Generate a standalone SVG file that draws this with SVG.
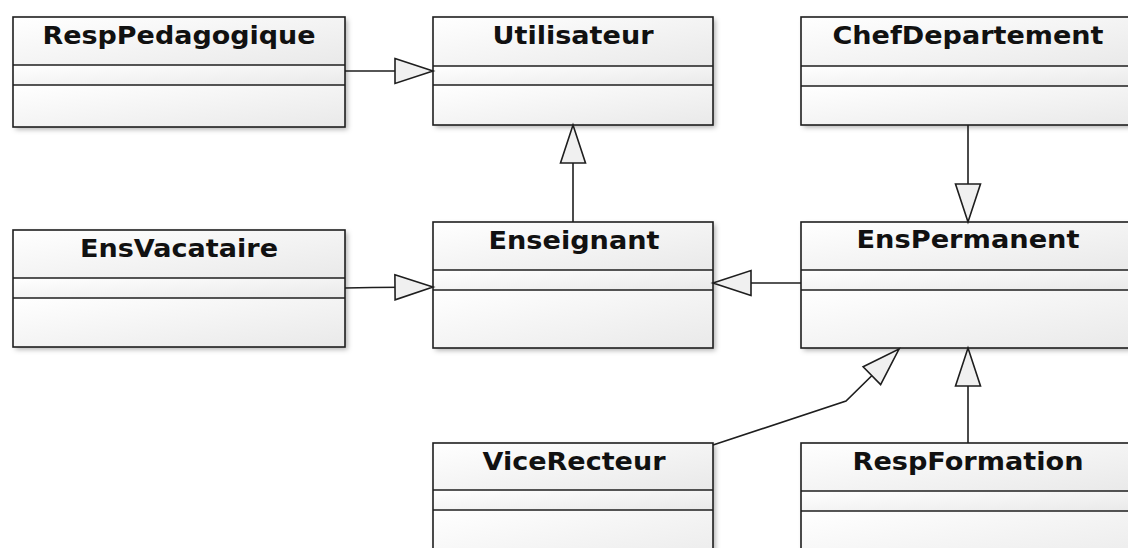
<svg xmlns="http://www.w3.org/2000/svg" width="1128" height="548" viewBox="0 0 1128 548">
<style>
.bg{fill:#ffffff;filter:url(#sh)}
.cmp{fill:url(#grad);stroke:none}
.frame{fill:none;stroke:#1e1e1e;stroke-width:1.6}
.div{stroke:#1e1e1e;stroke-width:1.6}
.name{font-family:"DejaVu Sans",Verdana,sans-serif;font-weight:bold;font-size:24px;fill:#111111;text-anchor:middle}
.conn{fill:none;stroke:#1e1e1e;stroke-width:1.6;marker-end:url(#gen)}
</style>
<defs>
<linearGradient id="grad" x1="0" y1="0" x2="1" y2="1">
<stop offset="0" stop-color="#ffffff"/>
<stop offset="1" stop-color="#e9e9e9"/>
</linearGradient>
<filter id="sh" x="-10%" y="-20%" width="120%" height="140%">
<feDropShadow dx="2.5" dy="2.5" stdDeviation="2.5" flood-color="#000000" flood-opacity="0.3"/>
</filter>
<marker id="gen" viewBox="-2 -2 42 29" refX="38" refY="12.5" markerWidth="42" markerHeight="29" markerUnits="userSpaceOnUse" orient="auto" overflow="visible">
<path d="M0,0 L38,12.5 L0,25 Z" fill="#f0f0f0" stroke="#1e1e1e" stroke-width="1.6" stroke-linejoin="miter"/>
</marker>
</defs>
<rect width="1128" height="548" fill="#ffffff"/>

<g id="RespPedagogique">
<rect class="bg" x="13" y="17" width="332" height="110"/>
<rect class="cmp" x="13" y="17" width="332" height="48"/>
<rect class="cmp" x="13" y="65" width="332" height="20"/>
<rect class="cmp" x="13" y="85" width="332" height="42"/>
<line class="div" x1="13" y1="65" x2="345" y2="65"/>
<line class="div" x1="13" y1="85" x2="345" y2="85"/>
<rect class="frame" x="13" y="17" width="332" height="110"/>
<text class="name" x="179" y="43.5" textLength="273" lengthAdjust="spacingAndGlyphs">RespPedagogique</text>
</g>

<g id="Utilisateur">
<rect class="bg" x="433" y="17" width="280" height="108"/>
<rect class="cmp" x="433" y="17" width="280" height="49"/>
<rect class="cmp" x="433" y="66" width="280" height="19"/>
<rect class="cmp" x="433" y="85" width="280" height="40"/>
<line class="div" x1="433" y1="66" x2="713" y2="66"/>
<line class="div" x1="433" y1="85" x2="713" y2="85"/>
<rect class="frame" x="433" y="17" width="280" height="108"/>
<text class="name" x="573" y="44" textLength="161" lengthAdjust="spacingAndGlyphs">Utilisateur</text>
</g>

<g id="ChefDepartement">
<rect class="bg" x="801" y="17" width="334" height="108"/>
<rect class="cmp" x="801" y="17" width="334" height="49"/>
<rect class="cmp" x="801" y="66" width="334" height="20"/>
<rect class="cmp" x="801" y="86" width="334" height="39"/>
<line class="div" x1="801" y1="66" x2="1135" y2="66"/>
<line class="div" x1="801" y1="86" x2="1135" y2="86"/>
<rect class="frame" x="801" y="17" width="334" height="108"/>
<text class="name" x="968" y="43.5" textLength="271" lengthAdjust="spacingAndGlyphs">ChefDepartement</text>
</g>

<g id="EnsVacataire">
<rect class="bg" x="13" y="230" width="332" height="117"/>
<rect class="cmp" x="13" y="230" width="332" height="48"/>
<rect class="cmp" x="13" y="278" width="332" height="20"/>
<rect class="cmp" x="13" y="298" width="332" height="49"/>
<line class="div" x1="13" y1="278" x2="345" y2="278"/>
<line class="div" x1="13" y1="298" x2="345" y2="298"/>
<rect class="frame" x="13" y="230" width="332" height="117"/>
<text class="name" x="179" y="256.5" textLength="198" lengthAdjust="spacingAndGlyphs">EnsVacataire</text>
</g>

<g id="Enseignant">
<rect class="bg" x="433" y="222" width="280" height="126"/>
<rect class="cmp" x="433" y="222" width="280" height="48"/>
<rect class="cmp" x="433" y="270" width="280" height="20"/>
<rect class="cmp" x="433" y="290" width="280" height="58"/>
<line class="div" x1="433" y1="270" x2="713" y2="270"/>
<line class="div" x1="433" y1="290" x2="713" y2="290"/>
<rect class="frame" x="433" y="222" width="280" height="126"/>
<text class="name" x="574" y="248.5" textLength="171" lengthAdjust="spacingAndGlyphs">Enseignant</text>
</g>

<g id="EnsPermanent">
<rect class="bg" x="801" y="222" width="334" height="126"/>
<rect class="cmp" x="801" y="222" width="334" height="48"/>
<rect class="cmp" x="801" y="270" width="334" height="20"/>
<rect class="cmp" x="801" y="290" width="334" height="58"/>
<line class="div" x1="801" y1="270" x2="1135" y2="270"/>
<line class="div" x1="801" y1="290" x2="1135" y2="290"/>
<rect class="frame" x="801" y="222" width="334" height="126"/>
<text class="name" x="968" y="247.5" textLength="223" lengthAdjust="spacingAndGlyphs">EnsPermanent</text>
</g>

<g id="ViceRecteur">
<rect class="bg" x="433" y="443" width="280" height="130"/>
<rect class="cmp" x="433" y="443" width="280" height="47"/>
<rect class="cmp" x="433" y="490" width="280" height="20"/>
<rect class="cmp" x="433" y="510" width="280" height="63"/>
<line class="div" x1="433" y1="490" x2="713" y2="490"/>
<line class="div" x1="433" y1="510" x2="713" y2="510"/>
<rect class="frame" x="433" y="443" width="280" height="130"/>
<text class="name" x="574" y="470" textLength="183" lengthAdjust="spacingAndGlyphs">ViceRecteur</text>
</g>

<g id="RespFormation">
<rect class="bg" x="801" y="443" width="334" height="130"/>
<rect class="cmp" x="801" y="443" width="334" height="48"/>
<rect class="cmp" x="801" y="491" width="334" height="20"/>
<rect class="cmp" x="801" y="511" width="334" height="62"/>
<line class="div" x1="801" y1="491" x2="1135" y2="491"/>
<line class="div" x1="801" y1="511" x2="1135" y2="511"/>
<rect class="frame" x="801" y="443" width="334" height="130"/>
<text class="name" x="968" y="470" textLength="231" lengthAdjust="spacingAndGlyphs">RespFormation</text>
</g>

<g id="connectors">
<path class="conn" d="M345,71 L433,71"/>
<path class="conn" d="M345,288 L372,287.5 L433,287"/>
<path class="conn" d="M573,222 L573,125"/>
<path class="conn" d="M968,125 L968,222"/>
<path class="conn" d="M801,283 L713,283"/>
<path class="conn" d="M713,445 L846,401 L899,349"/>
<path class="conn" d="M968,443 L968,348"/>
</g>
</svg>
